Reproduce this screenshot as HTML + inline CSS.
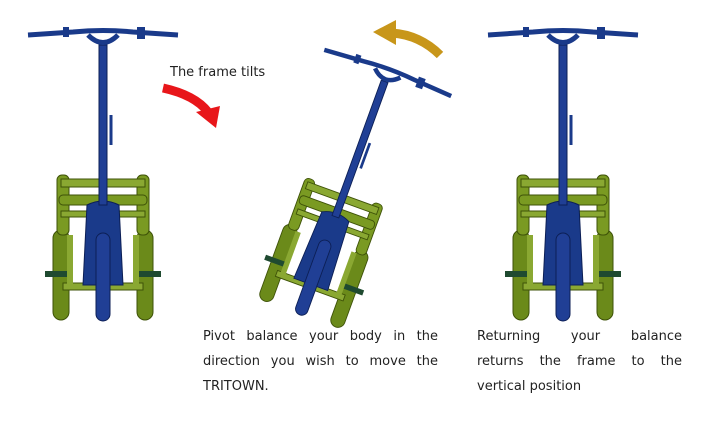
<!DOCTYPE html>
<html><head><style>
body{margin:0;background:#fff;width:720px;height:429px;overflow:hidden;position:relative;font-family:"DejaVu Sans","Liberation Sans",sans-serif;color:#222}
.t{position:absolute;font-size:13px;line-height:25px}
.t div{text-align:justify;text-align-last:justify;white-space:nowrap}
.t div.l{text-align-last:left}
</style></head><body>
<svg width="720" height="429" style="position:absolute;left:0;top:0">
<defs>
<g id="bike">
 <rect x="-50" y="55" width="16" height="90" rx="8" fill="#6b8a1a" stroke="#3e5208"/>
 <rect x="34" y="55" width="16" height="90" rx="8" fill="#6b8a1a" stroke="#3e5208"/>
 <rect x="-46" y="0" width="12" height="60" rx="5" fill="#7a9a22" stroke="#3e5208"/>
 <rect x="34" y="0" width="12" height="60" rx="5" fill="#7a9a22" stroke="#3e5208"/>
 <rect x="-42" y="4" width="84" height="8" fill="#8aa832" stroke="#3e5208"/>
 <rect x="-44" y="20" width="88" height="10" rx="4" fill="#7a9a22" stroke="#3e5208"/>
 <rect x="-42" y="36" width="84" height="6" fill="#8aa832" stroke="#3e5208"/>
 <rect x="-40" y="108" width="80" height="7" fill="#8aa832" stroke="#3e5208"/>
 <rect x="-36" y="60" width="6" height="50" fill="#8aa832"/>
 <rect x="30" y="60" width="6" height="50" fill="#8aa832"/>
 <rect x="-58" y="96" width="22" height="6" fill="#1f4a30"/>
 <rect x="36" y="96" width="22" height="6" fill="#1f4a30"/>
 <path d="M-16 30 Q0 22 16 30 L20 110 L-20 110 Z" fill="#1a3a8a" stroke="#0c1f55"/>
 <rect x="-7" y="58" width="14" height="88" rx="7" fill="#203f95" stroke="#0c1f55"/>
 <rect x="-4" y="-130" width="8" height="160" fill="#203f95" stroke="#0c1f55"/>
 <path d="M-15 -140 Q0 -125 15 -140" stroke="#1a3a8a" stroke-width="5" fill="none"/>
 <path d="M-75 -140 L-30 -143 Q0 -146 30 -143 L75 -140" stroke="#1a3a8a" stroke-width="5" fill="none"/>
 <rect x="34" y="-148" width="8" height="12" fill="#1a3a8a"/>
 <rect x="-40" y="-148" width="6" height="10" fill="#1a3a8a"/>
 <line x1="8" y1="-60" x2="8" y2="-30" stroke="#1a3a8a" stroke-width="3"/>
</g>
</defs>
<use href="#bike" transform="translate(103,175)"/>
<use href="#bike" transform="translate(563,175)"/>
<use href="#bike" transform="translate(300,314) rotate(20) scale(0.9) translate(0,-145)"/>
<path d="M163 88 Q195 95 208 112" stroke="#e8161a" stroke-width="9" fill="none"/>
<polygon points="196,112 220,106 216,128" fill="#e8161a"/>
<path d="M440 55 Q420 35 392 33" stroke="#c8961a" stroke-width="9" fill="none"/>
<polygon points="396,20 373,32 396,45" fill="#c8961a"/>
</svg>
<div class="t" style="left:170px;top:60px">The frame tilts</div>
<div class="t" style="left:203px;top:324px;width:235px"><div>Pivot balance your body in the</div><div>direction you wish to move the</div><div class="l">TRITOWN.</div></div>
<div class="t" style="left:477px;top:324px;width:205px"><div>Returning your balance</div><div>returns the frame to the</div><div class="l">vertical position</div></div>
</body></html>
